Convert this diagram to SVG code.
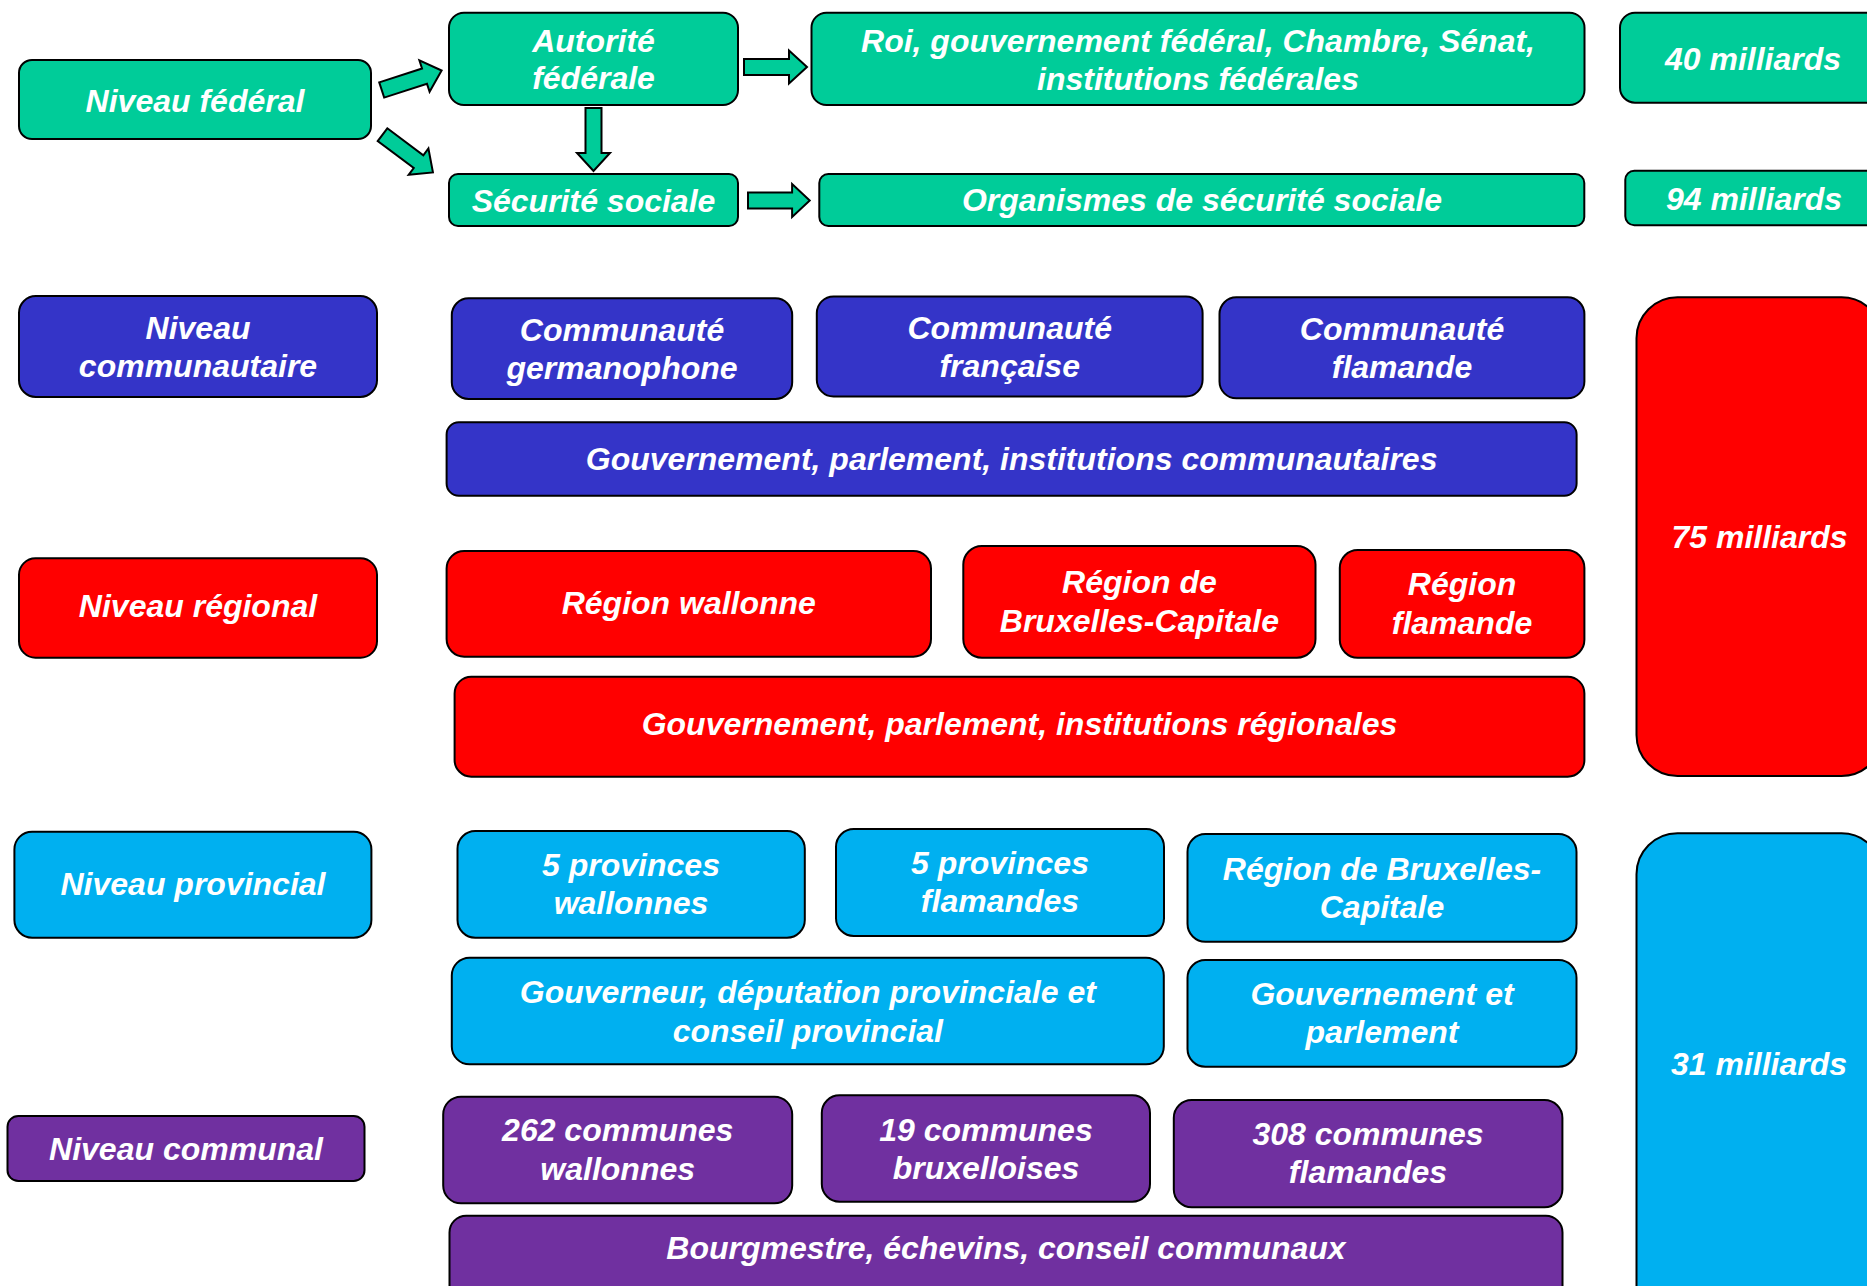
<svg xmlns="http://www.w3.org/2000/svg" width="1867" height="1286" viewBox="0 0 1867 1286">
<style>
rect{stroke:#000;stroke-width:2}
.g{fill:#00CC99}.b{fill:#3434C8}.r{fill:#FF0000}.c{fill:#00B0F0}.p{fill:#7030A0}
text{font-family:"Liberation Sans",Arial,sans-serif;font-weight:bold;font-style:italic;font-size:32px;fill:#fff;text-anchor:middle}
.arrow{fill:#00CC99;stroke:#000;stroke-width:2;stroke-linejoin:miter}
</style>
<defs>
<path id="ar" d="M0,-8 L45,-8 L45,-16.5 L63,0 L45,16.5 L45,8 L0,8 Z"/>
</defs>
<rect width="1867" height="1286" fill="#fff" style="stroke:none"/>
<g id="connectors">
<use href="#ar" class="arrow" transform="translate(381.7,90) rotate(-18)"/>
<use href="#ar" class="arrow" transform="translate(382.5,134.7) rotate(36.8)"/>
<use href="#ar" class="arrow" transform="translate(593.5,108) rotate(90)"/>
<use href="#ar" class="arrow" transform="translate(744,67)"/>
<use href="#ar" class="arrow" transform="translate(748,200.5) scale(0.98,1)"/>
</g>
<g id="n-niveau-federal"><rect class="g" x="19" y="60" width="352" height="79" rx="13"/><text x="195" y="111.7">Niveau fédéral</text></g>
<g id="n-autorite"><rect class="g" x="449" y="12.7" width="289" height="92.3" rx="15"/><text x="593.5" y="51.7">Autorité</text><text x="593.5" y="89.3">fédérale</text></g>
<g id="n-roi"><rect class="g" x="811.5" y="12.7" width="773" height="92.3" rx="15"/><text x="1198" y="52">Roi, gouvernement fédéral, Chambre, Sénat,</text><text x="1198" y="89.6">institutions fédérales</text></g>
<g id="n-40"><rect class="g" x="1620" y="12.7" width="266" height="90" rx="15"/><text x="1753" y="70">40 milliards</text></g>
<g id="n-securite"><rect class="g" x="449" y="174" width="289" height="52" rx="9"/><text x="593.5" y="211.7">Sécurité sociale</text></g>
<g id="n-organismes"><rect class="g" x="819.3" y="174" width="765" height="52" rx="9"/><text x="1202" y="211">Organismes de sécurité sociale</text></g>
<g id="n-94"><rect class="g" x="1625.3" y="170.7" width="260" height="54.6" rx="9"/><text x="1754" y="210">94 milliards</text></g>
<g id="n-niveau-communautaire"><rect class="b" x="19" y="296" width="358" height="101" rx="16.8"/><text x="198" y="339.4">Niveau</text><text x="198" y="376.8">communautaire</text></g>
<g id="n-germanophone"><rect class="b" x="451.8" y="298.3" width="340.4" height="100.7" rx="16.8"/><text x="622" y="340.7">Communauté</text><text x="622" y="379">germanophone</text></g>
<g id="n-francaise"><rect class="b" x="816.8" y="296.5" width="385.8" height="100" rx="16.7"/><text x="1009.7" y="338.5">Communauté</text><text x="1009.7" y="376.5">française</text></g>
<g id="n-flamande-comm"><rect class="b" x="1219.5" y="297.3" width="364.9" height="101" rx="16.8"/><text x="1402" y="340">Communauté</text><text x="1402" y="378.3">flamande</text></g>
<g id="n-gouv-comm"><rect class="b" x="446.6" y="422.3" width="1130" height="73.4" rx="12.2"/><text x="1011.6" y="470">Gouvernement, parlement, institutions communautaires</text></g>
<g id="n-niveau-regional"><rect class="r" x="19" y="558.3" width="358" height="99.4" rx="16.5"/><text x="198" y="617.3">Niveau régional</text></g>
<g id="n-wallonne"><rect class="r" x="446.6" y="551" width="484.4" height="105.7" rx="17.6"/><text x="688.8" y="614.3">Région wallonne</text></g>
<g id="n-bruxelles-reg"><rect class="r" x="963.3" y="546" width="352.2" height="111.7" rx="18.6"/><text x="1139.4" y="593.3">Région de</text><text x="1139.4" y="631.7">Bruxelles-Capitale</text></g>
<g id="n-flamande-reg"><rect class="r" x="1339.8" y="550" width="244.6" height="107.7" rx="17.9"/><text x="1462" y="595">Région</text><text x="1462" y="634">flamande</text></g>
<g id="n-gouv-reg"><rect class="r" x="454.6" y="676.7" width="1129.8" height="100" rx="16.7"/><text x="1019.5" y="735">Gouvernement, parlement, institutions régionales</text></g>
<g id="n-75"><rect class="r" x="1636.5" y="297.3" width="246" height="478.7" rx="41"/><text x="1759.5" y="548.3">75 milliards</text></g>
<g id="n-niveau-provincial"><rect class="c" x="14.4" y="831.7" width="357" height="106" rx="17.7"/><text x="193" y="895">Niveau provincial</text></g>
<g id="n-prov-wallonnes"><rect class="c" x="457.5" y="831" width="347.3" height="106.7" rx="17.8"/><text x="631" y="876">5 provinces</text><text x="631" y="914.3">wallonnes</text></g>
<g id="n-prov-flamandes"><rect class="c" x="836" y="829" width="328" height="107" rx="17.8"/><text x="1000" y="874">5 provinces</text><text x="1000" y="912">flamandes</text></g>
<g id="n-bxl-prov"><rect class="c" x="1187.5" y="834" width="389" height="107.7" rx="17.9"/><text x="1382" y="880">Région de Bruxelles-</text><text x="1382" y="917.7">Capitale</text></g>
<g id="n-gouverneur"><rect class="c" x="451.8" y="957.7" width="712" height="106.6" rx="17.8"/><text x="807.8" y="1003.3">Gouverneur, députation provinciale et</text><text x="807.8" y="1041.7">conseil provincial</text></g>
<g id="n-gouv-parl"><rect class="c" x="1187.5" y="960" width="389" height="106.7" rx="17.8"/><text x="1382" y="1005">Gouvernement et</text><text x="1382" y="1042.7">parlement</text></g>
<g id="n-31"><rect class="c" x="1636.5" y="833.3" width="246" height="500" rx="41"/><text x="1759" y="1075">31 milliards</text></g>
<g id="n-niveau-communal"><rect class="p" x="7.5" y="1116" width="357" height="65" rx="10.8"/><text x="186" y="1160">Niveau communal</text></g>
<g id="n-262"><rect class="p" x="443.2" y="1096.7" width="349" height="106.6" rx="17.8"/><text x="617.7" y="1141">262 communes</text><text x="617.7" y="1180">wallonnes</text></g>
<g id="n-19"><rect class="p" x="821.8" y="1095.3" width="328.2" height="106.4" rx="17.7"/><text x="986" y="1140.7">19 communes</text><text x="986" y="1178.8">bruxelloises</text></g>
<g id="n-308"><rect class="p" x="1173.8" y="1100" width="388.6" height="107.3" rx="17.9"/><text x="1368" y="1145">308 communes</text><text x="1368" y="1183.3">flamandes</text></g>
<g id="n-bourgmestre"><rect class="p" x="449.5" y="1215.7" width="1113" height="100" rx="16.7"/><text x="1006" y="1259">Bourgmestre, échevins, conseil communaux</text></g>
</svg>
